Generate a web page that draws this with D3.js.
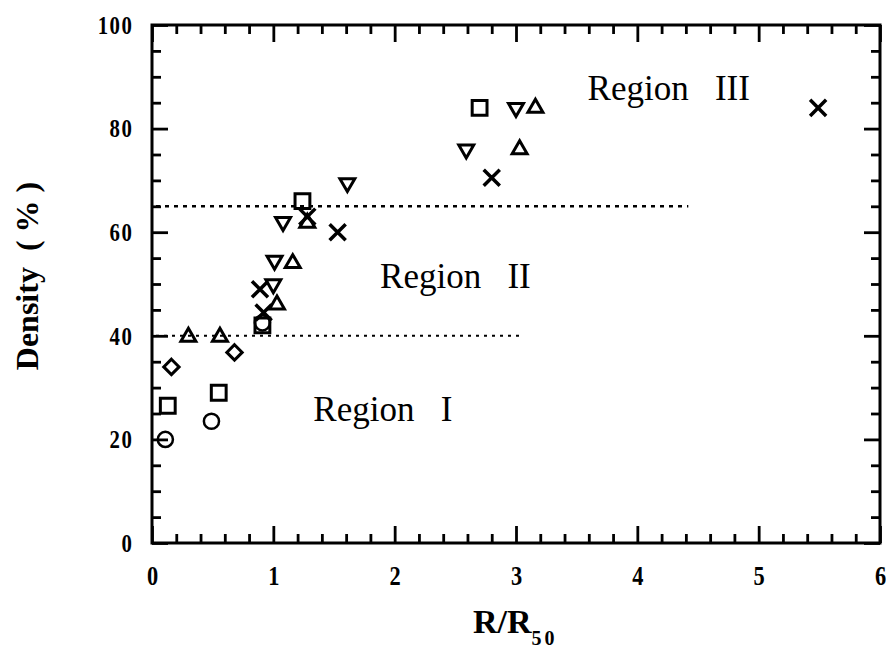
<html>
<head>
<style>
  body { margin: 0; background: #fff; }
  text { font-family: "Liberation Serif", "Times New Roman", serif; fill: #000; }
</style>
</head>
<body>
<div id="vis"></div>
<script src="https://d3js.org/d3.v7.min.js"></script>
<script>
// data
const circleX = [0.11, 0.49, 0.91]
const circleY = [20.0, 23.5, 42.5]
const squareX = [0.13, 0.55, 0.91, 1.24, 2.70]
const squareY = [26.5, 29.0, 42.0, 66.0, 84.0]
const diamondX = [0.16, 0.68]
const diamondY = [34.0, 36.8]
const triUpX = [0.30, 0.56, 1.03, 1.16, 1.28, 3.03, 3.16]
const triUpY = [39.8, 39.8, 46.0, 54.0, 61.8, 76.0, 84.0]
const triDownX = [1.00, 1.01, 1.08, 1.61, 2.59, 3.00]
const triDownY = [50.0, 54.5, 62.0, 69.5, 76.0, 84.0]
const crossX = [0.89, 0.92, 1.28, 1.53, 2.80, 5.49]
const crossY = [49.0, 44.5, 63.0, 60.0, 70.5, 84.0]

// boundary lines: density level and where the dotted line ends
const boundY = [40, 65]
const boundEnd = [3.03, 4.42]

const regionNames = ['Region   I', 'Region   II', 'Region   III']
const regionX = [1.33, 1.88, 3.59]
const regionY = [23.6, 49.2, 85.5]

const xTicks = [0, 1, 2, 3, 4, 5, 6]
const yTicks = [0, 20, 40, 60, 80, 100]

// canvas
const W = 886, H = 648
const M = { left: 152, top: 25, right: 6, bottom: 105 }
const svg = d3.select('#vis').append('svg')
  .attr('width', W).attr('height', H)

const x = d3.scaleLinear().domain([0, 6]).range([M.left, W - M.right])
const y = d3.scaleLinear().domain([0, 100]).range([H - M.bottom, M.top])

// minor ticks
const xMinor = d3.range(0, 6.001, 0.2).filter(v => Math.abs(v - Math.round(v)) > 0.01)
const yMinor = d3.range(0, 100.1, 5).filter(v => v % 20 !== 0)

function tickAxis(axis, vals, len) {
  return axis.tickValues(vals).tickSize(-len).tickFormat('')
}
function styleAxis(g) {
  g.select('.domain').remove()
  g.selectAll('.tick line').attr('stroke', '#000').attr('stroke-width', 2.8)
}

const x0 = H - M.bottom, y0 = M.top
// bottom
svg.append('g').attr('transform', `translate(0,${x0})`)
  .call(tickAxis(d3.axisBottom(x), xMinor, 9)).call(styleAxis)
svg.append('g').attr('transform', `translate(0,${x0})`)
  .call(d3.axisBottom(x).tickValues(xTicks).tickSize(-17).tickPadding(22).tickFormat(d3.format('d')))
  .call(styleAxis)
  .call(g => g.selectAll('.tick text')
    .attr('font-size', 28).attr('font-weight', 'bold')
    .attr('font-family', '"Liberation Serif", serif')
    .attr('transform', 'scale(0.8,1)'))
// top
svg.append('g').attr('transform', `translate(0,${y0})`)
  .call(tickAxis(d3.axisTop(x), xMinor, 9)).call(styleAxis)
svg.append('g').attr('transform', `translate(0,${y0})`)
  .call(tickAxis(d3.axisTop(x), xTicks, 17)).call(styleAxis)
// left
svg.append('g').attr('transform', `translate(${M.left},0)`)
  .call(tickAxis(d3.axisLeft(y), yMinor, 9)).call(styleAxis)
svg.append('g').attr('transform', `translate(${M.left},0)`)
  .call(d3.axisLeft(y).tickValues(yTicks).tickSize(-16).tickPadding(23).tickFormat(d3.format('d')))
  .call(styleAxis)
  .call(g => g.selectAll('.tick text')
    .attr('font-size', 26).attr('font-weight', 'bold')
    .attr('font-family', '"Liberation Serif", serif')
    .attr('letter-spacing', 2)
    .attr('transform', 'scale(0.8,1)'))
// right
svg.append('g').attr('transform', `translate(${W - M.right},0)`)
  .call(tickAxis(d3.axisRight(y), yMinor, 9)).call(styleAxis)
svg.append('g').attr('transform', `translate(${W - M.right},0)`)
  .call(tickAxis(d3.axisRight(y), yTicks, 16)).call(styleAxis)

// frame
svg.append('rect')
  .attr('x', x(0)).attr('y', y(100))
  .attr('width', x(6) - x(0)).attr('height', y(0) - y(100))
  .attr('fill', 'none').attr('stroke', '#000').attr('stroke-width', 3)

// boundaries
svg.append('g').selectAll('line')
  .data(boundY)
  .join('line')
  .attr('x1', x(0) + 4).attr('x2', (d, i) => x(boundEnd[i]))
  .attr('y1', d => y(d)).attr('y2', d => y(d))
  .attr('stroke', '#000')
  .attr('stroke-width', (d, i) => i === 0 ? 2 : 2.5)
  .attr('stroke-dasharray', (d, i) => i === 0 ? '3,5' : '4,5')

// region labels
svg.append('g').selectAll('text')
  .data(regionNames)
  .join('text')
  .attr('x', (d, i) => x(regionX[i]))
  .attr('y', (d, i) => y(regionY[i]))
  .attr('font-size', 35)
  .style('white-space', 'pre')
  .text(d => d)

// points
const series = [
  { xs: circleX, ys: circleY, type: d3.symbolCircle, size: 180, rot: 0, sw: 2.5 },
  { xs: squareX, ys: squareY, type: d3.symbolSquare2, size: 280, rot: 0, sw: 3 },
  { xs: diamondX, ys: diamondY, type: d3.symbolDiamond2, size: 150, rot: 0, sw: 3 },
  { xs: triUpX, ys: triUpY, type: d3.symbolTriangle2, size: 160, rot: 0, sw: 3 },
  { xs: triDownX, ys: triDownY, type: d3.symbolTriangle2, size: 160, rot: 180, sw: 3 },
  { xs: crossX, ys: crossY, type: d3.symbolTimes, size: 170, rot: 0, sw: 3.5 }
]
series.forEach(s => {
  const sym = d3.symbol().type(s.type).size(s.size)
  svg.append('g').selectAll('path')
    .data(s.xs.map((v, i) => [v, s.ys[i]]))
    .join('path')
    .attr('d', sym)
    .attr('transform', d => `translate(${x(d[0])},${y(d[1])}) rotate(${s.rot})`)
    .attr('fill', 'none')
    .attr('stroke', '#000')
    .attr('stroke-width', s.sw)
})

// axis titles
svg.append('text')
  .attr('transform', `translate(38,${(y(0) + y(100)) / 2 - 8}) rotate(-90)`)
  .attr('text-anchor', 'middle')
  .attr('font-size', 32).attr('font-weight', 'bold')
  .style('white-space', 'pre')
  .text('Density  ( % )')

const xt = svg.append('text')
  .attr('x', 473).attr('y', 633)
  .attr('font-size', 34).attr('font-weight', 'bold')
xt.append('tspan').text('R/R')
xt.append('tspan').attr('dy', 12).attr('font-size', 20).attr('letter-spacing', 3).text('50')
</script>
</body>
</html>
